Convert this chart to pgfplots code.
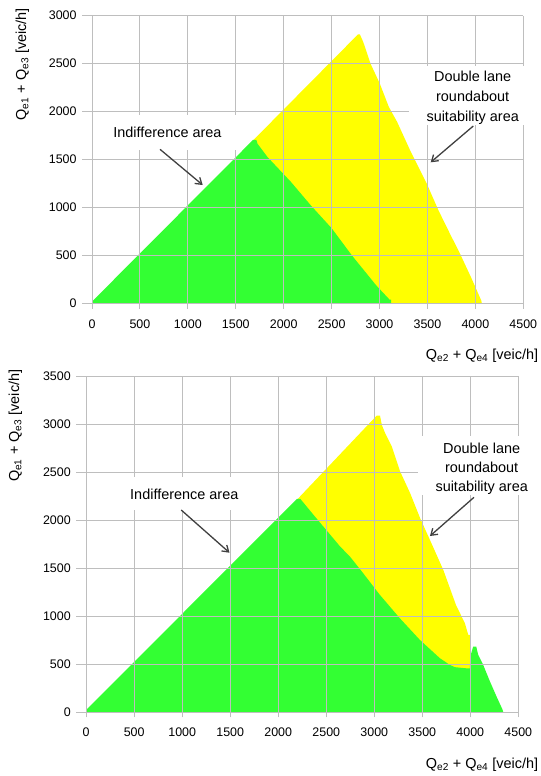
\documentclass[border=0pt]{standalone}
\usepackage{pgfplots}
\pgfplotsset{compat=1.18}
\usepackage{fontspec}
\setmainfont{Liberation Sans}
\usetikzlibrary{arrows.meta}

\definecolor{areagreen}{RGB}{51,255,51}
\definecolor{areayellow}{RGB}{255,255,0}
\definecolor{gridgray}{RGB}{190,190,190}
\definecolor{arrowgray}{RGB}{64,64,64}

\pgfplotsset{
  roundabout/.style={
    scale only axis,
    axis on top,
    xmin=0, xmax=4500, ymin=0,
    xtick={0,500,...,4500},
    ytick distance=500,
    grid=major,
    major grid style={draw=gridgray, line width=1bp},
    axis line style={draw=none},
    tick align=outside,
    tick pos=left,
    xtick style={draw=gridgray, line width=1bp, /pgfplots/major tick length=5bp},
    ytick style={draw=gridgray, line width=1bp, /pgfplots/major tick length=10bp},
    tick label style={font=\fontsize{12.5}{14}\selectfont, text=black},
    /pgf/number format/assume math mode=true,
    /pgf/number format/1000 sep={},
    xticklabel style={anchor=north, inner sep=0pt, yshift=-11.5bp},
    yticklabel style={anchor=east, inner sep=0pt, xshift=-11bp},
  },
}

\tikzset{
  note/.style={font=\fontsize{14.5}{19.7}\selectfont, inner sep=0pt, align=center},
  pointer/.style={draw=arrowgray, line width=1.3bp, -{Straight Barb[length=6bp,width=8bp]}},
  cover/.style={fill=white, draw=none},
}

\begin{document}
\begin{tikzpicture}
\path[use as bounding box] (0,0) rectangle (541bp,-776bp);

% ---------- single-lane vs. double-lane comparison, first case ----------
\begin{axis}[roundabout,
  at={(92bp,-303.5bp)}, anchor=south west,
  width=431.3bp, height=287.8bp, ymax=3000]
  % double lane roundabout suitability (its lower part lies under the green area)
  \addplot[fill=areayellow, draw=none] coordinates {
    (1682,0) (1682,1702) (2775,2805) (2795,2805) (2830,2726) (2871,2604)
    (2906,2500) (3003,2292) (3097,2049) (3184,1892) (3319,1597)
    (3492,1251) (3613,975) (3741,715) (3837,525) (3958,266)
    (4062,30) (4068,0)} \closedcycle;
  % indifference
  \addplot[fill=areagreen, draw=none] coordinates {
    (0,0) (0,20) (1680,1705) (1715,1705) (1726,1667) (1830,1528)
    (2075,1268) (2289,1016) (2500,785) (2714,498) (2967,187)
    (3105,40) (3122,40) (3122,0)} \closedcycle;
\end{axis}

% ---------- second case ----------
\begin{axis}[roundabout,
  at={(86.2bp,-712.3bp)}, anchor=south west,
  width=432.1bp, height=336bp, ymax=3500]
  \addplot[fill=areayellow, draw=none] coordinates {
    (2200,0) (2200,2220) (3025,3090) (3060,3090) (3079,2993) (3114,2906)
    (3183,2768) (3270,2507) (3374,2282) (3478,2021) (3580,1795)
    (3719,1483) (3851,1118) (3944,927) (3979,806) (3995,806)
    (3995,0)} \closedcycle;
  \addplot[fill=areagreen, draw=none] coordinates {
    (0,0) (0,25) (2195,2223) (2230,2223) (2368,2056) (2645,1726)
    (2747,1622) (2885,1448) (3059,1222) (3267,979) (3476,753)
    (3684,563) (3788,493) (3840,470) (3962,458) (3995,458)
    (4005,600) (4030,684) (4062,684) (4083,597) (4135,493)
    (4198,337) (4274,163) (4335,30) (4344,0)} \closedcycle;
\end{axis}

% ---------- axis titles ----------
\node[font=\fontsize{14.5}{17}\selectfont, inner sep=0pt, anchor=base east]
  at (538.3bp,-359.3bp) {Q\textsubscript{e2} + Q\textsubscript{e4} [veic/h]};
\node[font=\fontsize{14.5}{17}\selectfont, inner sep=0pt, anchor=base east]
  at (538.3bp,-768.1bp) {Q\textsubscript{e2} + Q\textsubscript{e4} [veic/h]};
\node[font=\fontsize{14.5}{17}\selectfont, inner sep=0pt, rotate=90, anchor=center]
  at (22.4bp,-64.2bp) {Q\textsubscript{e1} + Q\textsubscript{e3} [veic/h]};
\node[font=\fontsize{14.5}{17}\selectfont, inner sep=0pt, rotate=90, anchor=center]
  at (15.5bp,-425.8bp) {Q\textsubscript{e1} + Q\textsubscript{e3} [veic/h]};

% ---------- annotations, first case ----------
\fill[cover] (98bp,-115bp) rectangle (240bp,-150bp);
\fill[cover] (409bp,-66bp) rectangle (536bp,-125bp);
\node[note, anchor=base] at (167.4bp,-137.7bp) {Indifference area};
\node[note, anchor=base] at (472.7bp,-81.7bp) {Double lane};
\node[note, anchor=base] at (472.7bp,-101.7bp) {roundabout};
\node[note, anchor=base] at (472.7bp,-121bp) {suitability area};
\draw[pointer] (160bp,-149.3bp) -- (202.7bp,-185bp);
\draw[pointer] (473.3bp,-126bp) -- (430.7bp,-162.3bp);

% ---------- annotations, second case ----------
\fill[cover] (115bp,-477bp) rectangle (255bp,-510bp);
\fill[cover] (418bp,-436bp) rectangle (545bp,-495bp);
\node[note, anchor=base] at (184.3bp,-499.3bp) {Indifference area};
\node[note, anchor=base] at (481.7bp,-453.3bp) {Double lane};
\node[note, anchor=base] at (481.7bp,-472.3bp) {roundabout};
\node[note, anchor=base] at (481.7bp,-491bp) {suitability area};
\draw[pointer] (181.2bp,-510bp) -- (229.5bp,-552.7bp);
\draw[pointer] (474bp,-497.3bp) -- (430bp,-536bp);
\end{tikzpicture}
\end{document}
